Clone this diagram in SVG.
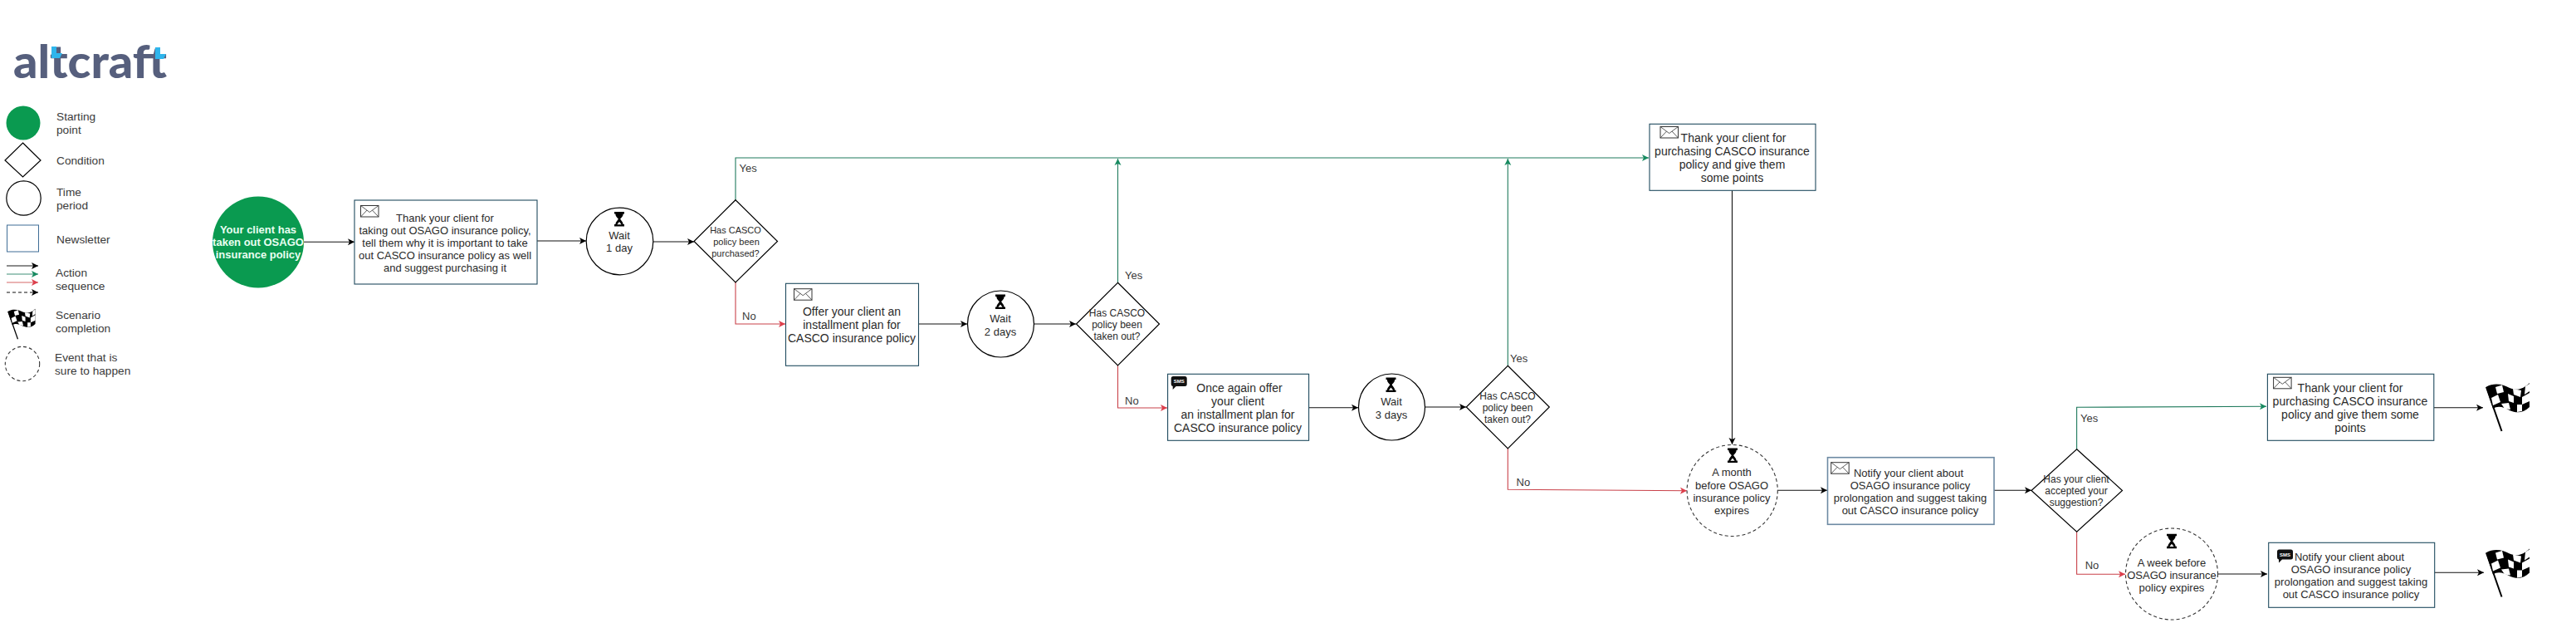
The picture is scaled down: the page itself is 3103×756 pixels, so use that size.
<svg xmlns="http://www.w3.org/2000/svg" xmlns:xlink="http://www.w3.org/1999/xlink" width="3103" height="756" viewBox="0 0 3103 756">
<style>
text{font-family:"Liberation Sans",Arial,sans-serif;fill:#2a2a2a;text-anchor:middle}
.t11{font-size:11px}.t12{font-size:12px}.t13{font-size:13px}.t14{font-size:14px}
.lab{font-size:13.7px;text-anchor:start;fill:#3a3a3a}
.cl{font-size:13px;text-anchor:start;fill:#3a3a3a}
.box{fill:#fff;stroke:#1f4a5e;stroke-width:1.1}
.dia,.tim{fill:#fff;stroke:#000;stroke-width:1.2}
.evt{fill:#fff;stroke:#333;stroke-width:1.1;stroke-dasharray:4 3}
.c{fill:none;stroke-width:1.1}
.k{stroke:#111;marker-end:url(#mk)}
.g{stroke:#1f7a5c;marker-end:url(#mg)}
.r{stroke:#c9424a;marker-end:url(#mr)}
</style>
<defs>
<marker id="mk" markerUnits="userSpaceOnUse" markerWidth="9" markerHeight="10" refX="8" refY="5" orient="auto"><path d="M0 1L8 5L0 9L2 5Z" fill="#000"/></marker>
<marker id="mg" markerUnits="userSpaceOnUse" markerWidth="9" markerHeight="10" refX="8" refY="5" orient="auto"><path d="M0 1L8 5L0 9L2 5Z" fill="#178a60"/></marker>
<marker id="mr" markerUnits="userSpaceOnUse" markerWidth="9" markerHeight="10" refX="8" refY="5" orient="auto"><path d="M0 1L8 5L0 9L2 5Z" fill="#dc3f4c"/></marker>
<g id="env"><rect x="0" y="0" width="21.5" height="13.5" fill="#fff" stroke="#333" stroke-width="1"/><path d="M0 0L10.7 8L21.5 0M0 13.5L7.5 5.6M21.5 13.5L14 5.6" fill="none" stroke="#333" stroke-width="0.8"/></g>
<g id="hour"><path d="M0 0H12V2.5H10.6C10.6 6 8 7 7.2 8.7C8 10.5 10.6 12 10.6 15H12V17.5H0V15H1.4C1.4 12 4 10.5 4.8 8.7C4 7 1.4 6 1.4 2.5H0Z" fill="#000"/><path d="M6 12L8.6 15.2H3.4Z" fill="#fff"/></g>
<g id="sms"><path d="M2.5 0H16.5A2.5 2.5 0 0 1 19 2.5V9.5A2.5 2.5 0 0 1 16.5 12H6L2 16V12A2.5 2.5 0 0 1 0 9.5V2.5A2.5 2.5 0 0 1 2.5 0Z" fill="#111"/><text x="9.5" y="8.2" style="font-size:6px;font-weight:700;fill:#fff">SMS</text></g>
<g id="flag">
<path d="M9.500 11C20 5 30 8 38 12C47 16 55 13 62 6V35C55 42 47 43 38 39C31 35 24 33 18 37Z" fill="#000"/>
<path d="M10 11L28.500 64" fill="none" stroke="#000" stroke-width="2"/>
<g fill="#fff"><path d="M21 11L29 8.500L31 17L23 19Z"/><path d="M42 13L52 15L51 23L43 20Z"/><path d="M57 10L62 7V16L56 20Z"/><path d="M16 24L24 20L27 29L18 33Z"/><path d="M36 19L43 22V30L37 28Z"/><path d="M53 23L62 18V28L53 32Z"/><path d="M28 31L37 30L39 38L32 37Z"/><path d="M47 32L53 32V40L47 41Z"/></g>
</g>
</defs>
<rect width="3103" height="756" fill="#fff"/>

<g id="logo">
<text x="16" y="94" textLength="185" lengthAdjust="spacingAndGlyphs" style="font-family:Lato,'Noto Sans',sans-serif;font-weight:900;font-size:55px;fill:#565f7d;text-anchor:start">altcraft</text>
<path d="M62 56h6v8h7l-3 6h-10Z" fill="#2fb5ec"/><path d="M187 57h6v8h7l-3 6h-10Z" fill="#2fb5ec"/>
</g>

<g id="legend">
<circle cx="28" cy="148" r="20.5" fill="#0a9a50"/>
<text class="lab" x="68" y="145">Starting</text><text class="lab" x="68" y="161">point</text>
<path class="dia" d="M27.500 172L49 193L27.500 213L6 193Z"/>
<text class="lab" x="68" y="198">Condition</text>
<circle class="tim" cx="28.500" cy="238.500" r="20.700"/>
<text class="lab" x="68" y="236">Time</text><text class="lab" x="68" y="252">period</text>
<rect x="8.500" y="271" width="38" height="32" fill="#fff" stroke="#3f6d96" stroke-width="1"/>
<text class="lab" x="68" y="293">Newsletter</text>
<path d="M8 320H46" fill="none" stroke="#666" stroke-width="1.500" marker-end="url(#mk)"/>
<path d="M8 330H46" fill="none" stroke="#7fb5a5" stroke-width="1.500" marker-end="url(#mg)"/>
<path d="M8 340H46" fill="none" stroke="#e39a9a" stroke-width="1.500" marker-end="url(#mr)"/>
<path d="M8 352H46" fill="none" stroke="#111" stroke-width="1.100" stroke-dasharray="4 3" marker-end="url(#mk)"/>
<text class="lab" x="67" y="333">Action</text><text class="lab" x="67" y="349">sequence</text>
<use href="#flag" transform="translate(3.500 368) scale(0.63)"/>
<text class="lab" x="67" y="384">Scenario</text><text class="lab" x="67" y="400">completion</text>
<circle class="evt" cx="27" cy="438" r="20.700"/>
<text class="lab" x="66" y="435">Event that is</text><text class="lab" x="66" y="451">sure to happen</text>
</g>

<g id="connectors">
<path class="c k" d="M366 291.300H427"/>
<path class="c k" d="M647 290H706"/>
<path class="c k" d="M787 291H836"/>
<path class="c g" d="M886 241V190H1986"/>
<path class="c r" d="M886 340V390H946"/>
<path class="c k" d="M1106.600 390H1165"/>
<path class="c k" d="M1245.400 390H1296"/>
<path class="c g" d="M1346.500 340V191"/>
<path class="c r" d="M1346.500 440V491H1406"/>
<path class="c k" d="M1576.500 490.700H1636"/>
<path class="c k" d="M1716.300 490H1766"/>
<path class="c g" d="M1816.300 440V191"/>
<path class="c r" d="M1816.300 540V589.300L2032 590.700"/>
<path class="c k" d="M2086.500 229V535"/>
<path class="c k" d="M2141.300 590.300H2201"/>
<path class="c k" d="M2402 590.300H2447"/>
<path class="c g" d="M2501.600 541V490.300L2730 489.300"/>
<path class="c r" d="M2501.600 640V691.300H2560"/>
<path class="c k" d="M2932 490.700H2991"/>
<path class="c k" d="M2671.700 691H2731"/>
<path class="c k" d="M2933 689.300H2992"/>
</g>

<g id="connector-labels">
<text class="cl" x="890.500" y="207">Yes</text>
<text class="cl" x="894" y="385">No</text>
<text class="cl" x="1355" y="336">Yes</text>
<text class="cl" x="1355" y="487">No</text>
<text class="cl" x="1819" y="436">Yes</text>
<text class="cl" x="1826.500" y="585">No</text>
<text class="cl" x="2506" y="508">Yes</text>
<text class="cl" x="2511.700" y="685">No</text>
</g>

<g id="start"><circle cx="311" cy="291.500" r="55" fill="#0a9a50"/>
<g style="font-weight:700" class="t13"><text x="311" y="281" style="fill:#e9fff2">Your client has</text><text x="311" y="296" style="fill:#e9fff2">taken out OSAGO</text><text x="311" y="311" style="fill:#e9fff2">insurance policy</text></g></g>

<g id="box1"><rect class="box" x="427" y="241" width="220" height="101"/><use href="#env" x="434.500" y="247.500"/>
<g class="t13"><text x="536" y="267">Thank your client for</text><text x="536" y="282">taking out OSAGO insurance policy,</text><text x="536" y="297">tell them why it is important to take</text><text x="536" y="312">out CASCO insurance policy as well</text><text x="536" y="327">and suggest purchasing it</text></g></g>

<g id="wait1"><circle class="tim" cx="746.500" cy="290.500" r="40.300"/><use href="#hour" x="740" y="255"/>
<g class="t13"><text x="746" y="288">Wait</text><text x="746" y="303">1 day</text></g></g>

<g id="cond1"><path class="dia" d="M886 240.700L936.500 290.500L886 340L836 290.500Z"/>
<g class="t11"><text x="886" y="281">Has CASCO</text><text x="887" y="295">policy been</text><text x="886" y="309">purchased?</text></g></g>

<g id="box2"><rect class="box" x="946.500" y="341.300" width="160" height="99"/><use href="#env" x="956.500" y="347.700"/>
<g class="t14"><text x="1026" y="380">Offer your client an</text><text x="1026" y="396">installment plan for</text><text x="1026" y="412">CASCO insurance policy</text></g></g>

<g id="wait2"><circle class="tim" cx="1205.500" cy="390" r="40"/><use href="#hour" x="1199" y="354.500"/>
<g class="t13"><text x="1205" y="388">Wait</text><text x="1205" y="404">2 days</text></g></g>

<g id="cond2"><path class="dia" d="M1346.500 340.300L1396.500 390L1346.500 440L1296.500 390Z"/>
<g class="t12"><text x="1345.500" y="381">Has CASCO</text><text x="1345.500" y="395">policy been</text><text x="1345.500" y="409">taken out?</text></g></g>

<g id="box3"><rect class="box" x="1406.600" y="450.300" width="170" height="80"/><use href="#sms" x="1410.700" y="453"/>
<g class="t14"><text x="1493" y="472">Once again offer</text><text x="1491" y="488">your client</text><text x="1491" y="504">an installment plan for</text><text x="1491" y="520">CASCO insurance policy</text></g></g>

<g id="wait3"><circle class="tim" cx="1676.500" cy="490" r="40"/><use href="#hour" x="1669.500" y="454.500"/>
<g class="t13"><text x="1676" y="488">Wait</text><text x="1676" y="504">3 days</text></g></g>

<g id="cond3"><path class="dia" d="M1816.300 440.300L1866.300 490L1816.300 540L1766.300 490Z"/>
<g class="t12"><text x="1816" y="481">Has CASCO</text><text x="1816" y="495">policy been</text><text x="1816" y="509">taken out?</text></g></g>

<g id="box4"><rect class="box" x="1987" y="149.300" width="200" height="80"/><use href="#env" x="2000" y="152.500"/>
<g class="t14"><text x="2088" y="171">Thank your client for</text><text x="2086.500" y="187">purchasing CASCO insurance</text><text x="2086.500" y="203">policy and give them</text><text x="2086.500" y="219">some points</text></g></g>

<g id="event1"><ellipse class="evt" cx="2086.700" cy="590.500" rx="54.600" ry="55"/><use href="#hour" x="2081" y="539.500"/>
<g class="t13"><text x="2086" y="573">A month</text><text x="2086" y="588.500">before OSAGO</text><text x="2086" y="604">insurance policy</text><text x="2086" y="619">expires</text></g></g>

<g id="box5"><rect x="2201.500" y="550.700" width="200.500" height="80.600" fill="#fff" stroke="#6d8aa3" stroke-width="1.600"/><use href="#env" x="2205.700" y="556.700"/>
<g class="t13"><text x="2299" y="574">Notify your client about</text><text x="2301" y="589">OSAGO insurance policy</text><text x="2301" y="604">prolongation and suggest taking</text><text x="2301" y="619">out CASCO insurance policy</text></g></g>

<g id="cond4"><path class="dia" d="M2501.600 540.700L2556.500 590.500L2501.600 640.300L2447 590.500Z"/>
<g class="t12"><text x="2501" y="581">Has your client</text><text x="2501" y="595">accepted your</text><text x="2501" y="609">suggestion?</text></g></g>

<g id="box6"><rect class="box" x="2731.400" y="450.300" width="200.400" height="80"/><use href="#env" x="2738.600" y="454.300"/>
<g class="t14"><text x="2831" y="472">Thank your client for</text><text x="2831" y="488">purchasing CASCO insurance</text><text x="2831" y="504">policy and give them some</text><text x="2831" y="520">points</text></g></g>

<g id="event2"><ellipse class="evt" cx="2616" cy="691" rx="55.500" ry="55"/><use href="#hour" x="2610" y="642.700"/>
<g class="t13"><text x="2616" y="681.500">A week before</text><text x="2616" y="696.500">OSAGO insurance</text><text x="2616" y="711.500">policy expires</text></g></g>

<g id="box7"><rect class="box" x="2732.700" y="653.300" width="200" height="78"/><use href="#sms" x="2743" y="661.500"/>
<g class="t13"><text x="2830" y="675">Notify your client about</text><text x="2832" y="690">OSAGO insurance policy</text><text x="2832" y="705">prolongation and suggest taking</text><text x="2832" y="720">out CASCO insurance policy</text></g></g>

<g id="finish1"><use href="#flag" x="2985" y="455"/></g>
<g id="finish2"><use href="#flag" x="2985" y="654.500"/></g>
</svg>
